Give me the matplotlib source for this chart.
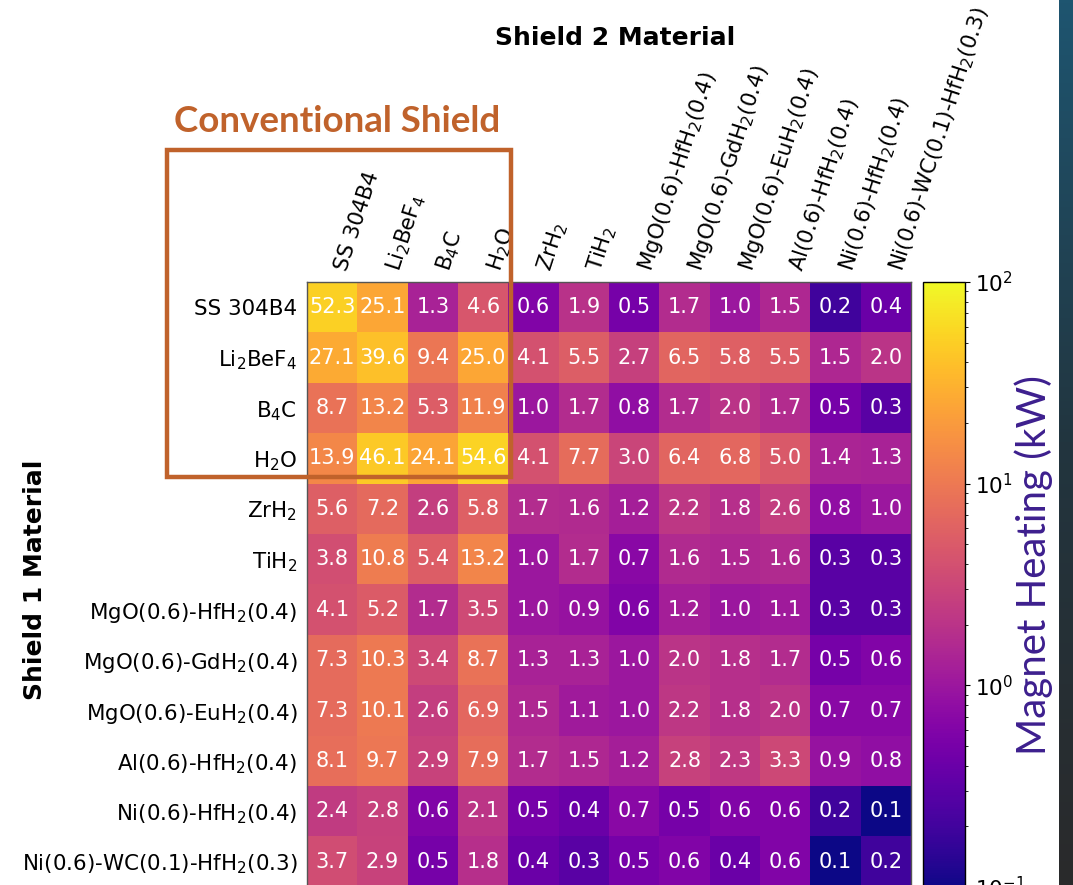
import numpy as np
import matplotlib
matplotlib.use("Agg")
import matplotlib.pyplot as plt
from matplotlib.colors import LogNorm, LinearSegmentedColormap
from matplotlib.patches import Rectangle

# Materiales (mismos para escudo 1 y escudo 2)
materiales = [
    "SS 304B4", "Li$_2$BeF$_4$", "B$_4$C", "H$_2$O", "ZrH$_2$", "TiH$_2$",
    "MgO(0.6)-HfH$_2$(0.4)", "MgO(0.6)-GdH$_2$(0.4)", "MgO(0.6)-EuH$_2$(0.4)",
    "Al(0.6)-HfH$_2$(0.4)", "Ni(0.6)-HfH$_2$(0.4)", "Ni(0.6)-WC(0.1)-HfH$_2$(0.3)",
]

# Calentamiento del imán (kW), filas = escudo 1, columnas = escudo 2
fila_ss304 = [52.3, 25.1, 1.3, 4.6, 0.6, 1.9, 0.5, 1.7, 1.0, 1.5, 0.2, 0.4]
fila_li2bef4 = [27.1, 39.6, 9.4, 25.0, 4.1, 5.5, 2.7, 6.5, 5.8, 5.5, 1.5, 2.0]
fila_b4c = [8.7, 13.2, 5.3, 11.9, 1.0, 1.7, 0.8, 1.7, 2.0, 1.7, 0.5, 0.3]
fila_h2o = [13.9, 46.1, 24.1, 54.6, 4.1, 7.7, 3.0, 6.4, 6.8, 5.0, 1.4, 1.3]
fila_zrh2 = [5.6, 7.2, 2.6, 5.8, 1.7, 1.6, 1.2, 2.2, 1.8, 2.6, 0.8, 1.0]
fila_tih2 = [3.8, 10.8, 5.4, 13.2, 1.0, 1.7, 0.7, 1.6, 1.5, 1.6, 0.3, 0.3]
fila_mgo_hf = [4.1, 5.2, 1.7, 3.5, 1.0, 0.9, 0.6, 1.2, 1.0, 1.1, 0.3, 0.3]
fila_mgo_gd = [7.3, 10.3, 3.4, 8.7, 1.3, 1.3, 1.0, 2.0, 1.8, 1.7, 0.5, 0.6]
fila_mgo_eu = [7.3, 10.1, 2.6, 6.9, 1.5, 1.1, 1.0, 2.2, 1.8, 2.0, 0.7, 0.7]
fila_al_hf = [8.1, 9.7, 2.9, 7.9, 1.7, 1.5, 1.2, 2.8, 2.3, 3.3, 0.9, 0.8]
fila_ni_hf = [2.4, 2.8, 0.6, 2.1, 0.5, 0.4, 0.7, 0.5, 0.6, 0.6, 0.2, 0.1]
fila_ni_wc_hf = [3.7, 2.9, 0.5, 1.8, 0.4, 0.3, 0.5, 0.6, 0.4, 0.6, 0.1, 0.2]

calor = np.array([
    fila_ss304, fila_li2bef4, fila_b4c, fila_h2o, fila_zrh2, fila_tih2,
    fila_mgo_hf, fila_mgo_gd, fila_mgo_eu, fila_al_hf, fila_ni_hf, fila_ni_wc_hf,
])

W, H = 1073, 885
fig = plt.figure(figsize=(W / 100, H / 100), dpi=100)

# Ejes en coordenadas de pixel de la figura
def px_axes(x0, y0, x1, y1):
    return fig.add_axes([x0 / W, 1 - y1 / H, (x1 - x0) / W, (y1 - y0) / H])

ax = px_axes(307, 282, 911, 887)
cax = px_axes(923, 282, 965, 887)

im = ax.imshow(calor, cmap="plasma", norm=LogNorm(vmin=0.1, vmax=100), aspect="auto")

n = len(materiales)
for i in range(n):
    for j in range(n):
        ax.text(j, i, f"{calor[i, j]:.1f}", ha="center", va="center",
                color="white", fontsize=15)

ax.set_xticks(range(n))
ax.set_yticks(range(n))
ax.set_xticklabels(materiales, rotation=72, ha="left", va="top",
                   rotation_mode="anchor", fontsize=15.4)
ax.set_yticklabels(materiales, fontsize=15.4)
ax.tick_params(top=True, labeltop=True, bottom=False, labelbottom=False,
               length=0, pad=7)
ax.tick_params(axis="x", pad=11)
for s in ax.spines.values():
    s.set_color("#555555")
    s.set_linewidth(1.0)

cb = fig.colorbar(im, cax=cax)
cb.ax.tick_params(labelsize=15.5)
cb.outline.set_linewidth(1.0)

fig.text(615 / W, 1 - 38 / H, "Shield 2 Material", ha="center", va="center",
         fontsize=18, fontweight="bold")
fig.text(35 / W, 1 - 580 / H, "Shield 1 Material", ha="center", va="center",
         rotation=90, fontsize=18, fontweight="bold")
fig.text(1034 / W, 1 - 565 / H, "Magnet Heating (kW)", ha="center", va="center",
         rotation=90, fontsize=29, color="#3D1F8E", family="Lato")

# Recuadro del blindaje convencional
naranja = "#C0622B"
fig.text(337 / W, 1 - 122 / H, "Conventional Shield", ha="center", va="center",
         fontsize=26.5, fontweight="bold", color=naranja, family="Lato")
fig.patches.append(Rectangle((167 / W, 1 - 477 / H), (511 - 167) / W, (477 - 150) / H,
                             transform=fig.transFigure, fill=False,
                             edgecolor=naranja, linewidth=3.2))

# Franja oscura del borde derecho
franja = px_axes(1059, 0, 1073, 885)
grad = LinearSegmentedColormap.from_list("franja", ["#1E5570", "#22353F", "#2A2A2B"])
franja.imshow(np.linspace(0, 1, 256)[:, None], cmap=grad, aspect="auto")
franja.axis("off")

fig.savefig("out.png", dpi=100)
